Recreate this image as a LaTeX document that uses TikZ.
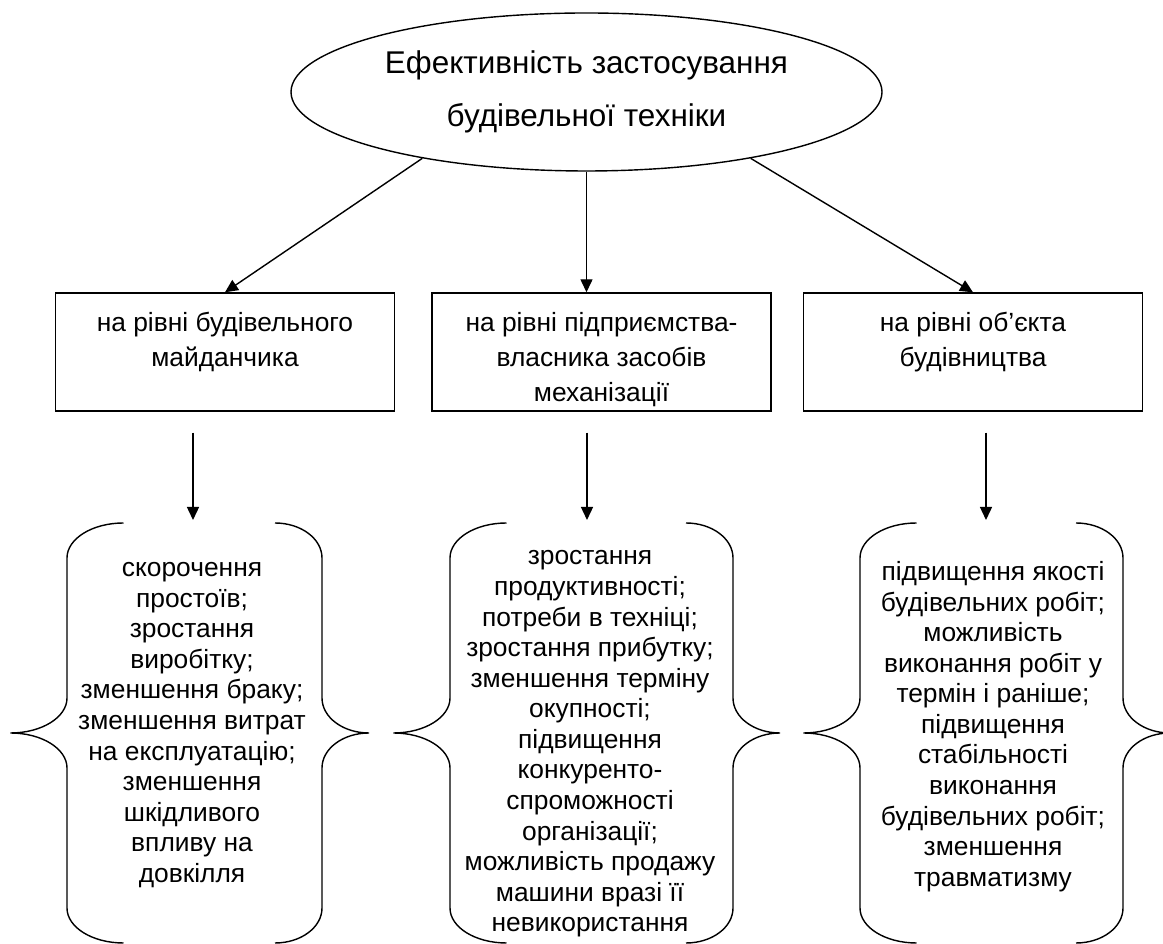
\documentclass[tikz,border=0pt]{standalone}
\usepackage{fontspec}
\setmainfont{Liberation Sans}
\usetikzlibrary{shapes.geometric, arrows.meta, calc}

\begin{document}
\begin{tikzpicture}[
	arr/.style={line width=0.8pt, -{Triangle[length=2.6mm,width=2.4mm]}},
	level/.style={draw, line width=0.8pt, minimum width=6.78cm, minimum height=2.36cm, inner sep=0pt},
	levelText/.style={anchor=north, inner sep=0pt, align=center, font=\fontsize{15}{19.8}\selectfont},
	list/.style={align=center, inner sep=0pt, font=\fontsize{15}{17.4}\selectfont},
	brace/.style={line width=0.8pt}]
	\def\Btop{8.42}
	\def\Bmid{4.22}
	\def\Bbot{0.02}
	\def\Rb{0.7}
	\def\Wl{1.13}
	\def\Wr{0.94}
	% both braces of one group, #1 and #2 are the x of the straight parts
	\def\bracepair#1#2{%
		\draw[brace] (#1+\Wl,\Btop) arc[start angle=90, end angle=180, x radius=\Wl, y radius=\Rb] -- (#1,\Bmid+\Rb)
			arc[start angle=0, end angle=-90, x radius=\Wl, y radius=\Rb] arc[start angle=90, end angle=0, x radius=\Wl, y radius=\Rb]
			-- (#1,\Bbot+\Rb) arc[start angle=180, end angle=270, x radius=\Wl, y radius=\Rb];
		\draw[brace] (#2-\Wr,\Btop) arc[start angle=90, end angle=0, x radius=\Wr, y radius=\Rb] -- (#2,\Bmid+\Rb)
			arc[start angle=180, end angle=270, x radius=\Wr, y radius=\Rb] arc[start angle=90, end angle=180, x radius=\Wr, y radius=\Rb]
			-- (#2,\Bbot+\Rb) arc[start angle=0, end angle=-90, x radius=\Wr, y radius=\Rb];
	}

	\useasboundingbox (0,0) rectangle (23.26,18.88);

	\node[ellipse, draw, line width=0.8pt, minimum width=11.82cm, minimum height=3.16cm, inner sep=0pt, align=center,
		font=\fontsize{17.9}{30.2}\selectfont] (eff) at (11.73,17.04) {Ефективність застосування\\будівельної техніки};

	\node[level] (site) at (4.5,11.84)   {};
	\node[level] (firm) at (12.03,11.84) {};
	\node[level] (obj)  at (19.46,11.84) {};
	\node[levelText] (siteText) at ([yshift=-4mm]site.north) {на рівні будівельного\\майданчика};
	\node[levelText] (firmText) at ([yshift=-4mm]firm.north) {на рівні підприємства-\\власника засобів\\механізації};
	\node[levelText] (objText)  at ([yshift=-4mm]obj.north) {на рівні об’єкта\\будівництва};

	\draw[arr] (eff.202) -- (site.north);
	\draw[arr] (eff.south) -- (eff.south |- firm.north);
	\draw[arr] (eff.338) -- (obj.north);

	% lists in braces
	\bracepair{1.34}{6.44}
	\bracepair{9.0}{14.66}
	\bracepair{17.2}{22.46}

	\node[list] (siteList) at (3.84,4.38) {скорочення\\простоїв;\\зростання\\виробітку;\\зменшення браку;\\зменшення витрат\\на експлуатацію;\\зменшення\\шкідливого\\впливу на\\довкілля};
	\node[list] (firmList) at (11.8,4.0) {зростання\\продуктивності;\\потреби в техніці;\\зростання прибутку;\\зменшення терміну\\окупності;\\підвищення\\конкуренто-\\спроможності\\організації;\\можливість продажу\\машини вразі її\\невикористання};
	\node[list] (objList) at (19.86,4.35) {підвищення якості\\будівельних робіт;\\можливість\\виконання робіт у\\термін і раніше;\\підвищення\\стабільності\\виконання\\будівельних робіт;\\зменшення\\травматизму};

	\coordinate (siteTop) at (3.86,8.48);
	\coordinate (firmTop) at (11.74,8.48);
	\coordinate (objTop)  at (19.72,8.48);

	\draw[arr] ([yshift=-4.2mm]site.south -| siteTop) -- (siteTop);
	\draw[arr] ([yshift=-4.2mm]firm.south -| firmTop) -- (firmTop);
	\draw[arr] ([yshift=-4.2mm]obj.south -| objTop) -- (objTop);
\end{tikzpicture}
\end{document}
